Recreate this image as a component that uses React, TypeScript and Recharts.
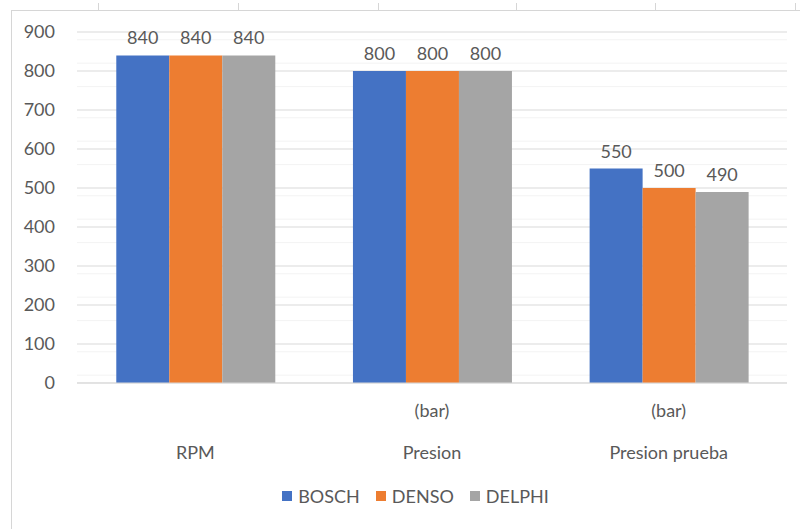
import { BarChart, Bar, XAxis, YAxis, CartesianGrid, Legend, LabelList } from "recharts";

const categories = ["RPM", "Presion", "Presion prueba"];
const units = ["", "(bar)", "(bar)"];
const bosch = [840, 800, 550];
const denso = [840, 800, 500];
const delphi = [840, 800, 490];
const yTicks = [0, 100, 200, 300, 400, 500, 600, 700, 800, 900];
const minorTicks = [20, 40, 60, 80, 120, 140, 160, 180, 220, 240, 260, 280, 320, 340, 360, 380, 420, 440, 460, 480, 520, 540, 560, 580, 620, 640, 660, 680, 720, 740, 760, 780, 820, 840, 860, 880];
const sheetColumns = [98, 238, 378, 516, 655, 795];

const data = categories.map((name, i) => ({
  name,
  unit: units[i],
  BOSCH: bosch[i],
  DENSO: denso[i],
  DELPHI: delphi[i],
}));

const series = [
  { key: "BOSCH", color: "#4472C4" },
  { key: "DENSO", color: "#ED7D31" },
  { key: "DELPHI", color: "#A5A5A5" },
];

const textColor = "#595959";
const font = "Lato, 'Open Sans', sans-serif";
const fontSize = 18;

function CategoryTick(props: any) {
  const { x, y, index } = props;
  return (
    <g>
      <text x={x} y={y + 32} textAnchor="middle" fill={textColor} fontSize={fontSize} fontFamily={font}>
        {units[index]}
      </text>
      <text x={x} y={y + 74} textAnchor="middle" fill={textColor} fontSize={fontSize} fontFamily={font}>
        {categories[index]}
      </text>
    </g>
  );
}

function LegendRow() {
  return (
    <div style={{ display: "flex", justifyContent: "center", gap: 16, paddingLeft: 44, fontFamily: font, fontSize, color: textColor }}>
      {series.map((s) => (
        <div key={s.key} style={{ display: "flex", alignItems: "center", gap: 6 }}>
          <span style={{ width: 10, height: 10, background: s.color, display: "inline-block" }} />
          <span>{s.key}</span>
        </div>
      ))}
    </div>
  );
}

export default function App() {
  return (
    <div style={{ position: "fixed", left: 0, top: 0, width: 800, height: 529, background: "#fff", overflow: "hidden" }}>
      {/* spreadsheet cell borders behind the chart */}
      <div style={{ position: "absolute", left: 11, top: 10, right: 0, borderTop: "1px solid #d6d6d6" }} />
      <div style={{ position: "absolute", left: 11, top: 10, bottom: 0, borderLeft: "1px solid #d6d6d6" }} />
      {sheetColumns.map((cx) => (
        <div key={cx} style={{ position: "absolute", left: cx, top: 3, height: 7, borderLeft: "1px solid #d6d6d6" }} />
      ))}
      <div style={{ position: "absolute", left: 0, top: 0 }}>
        <BarChart
          width={800}
          height={529}
          data={data}
          margin={{ top: 32, right: 13, left: 0, bottom: 20 }}
          barCategoryGap="16.6%"
          barGap={0}
        >
          <CartesianGrid vertical={false} horizontalValues={minorTicks} stroke="#f3f3f3" />
          <CartesianGrid vertical={false} stroke="#d9d9d9" />
          <XAxis
            dataKey="name"
            axisLine={{ stroke: "#d9d9d9" }}
            tickLine={false}
            tickSize={0}
            height={90}
            interval={0}
            tick={<CategoryTick />}
          />
          <YAxis
            domain={[0, 900]}
            ticks={yTicks}
            axisLine={false}
            tickLine={false}
            tickSize={0}
            tickMargin={22}
            width={77}
            tick={{ fill: textColor, fontSize, fontFamily: font }}
          />
          <Legend verticalAlign="bottom" height={36} wrapperStyle={{ bottom: 8 }} content={<LegendRow />} />
          {series.map((s) => (
            <Bar key={s.key} dataKey={s.key} fill={s.color} isAnimationActive={false}>
              <LabelList dataKey={s.key} position="top" offset={11} fill={textColor} fontSize={fontSize} fontFamily={font} />
            </Bar>
          ))}
        </BarChart>
      </div>
    </div>
  );
}
